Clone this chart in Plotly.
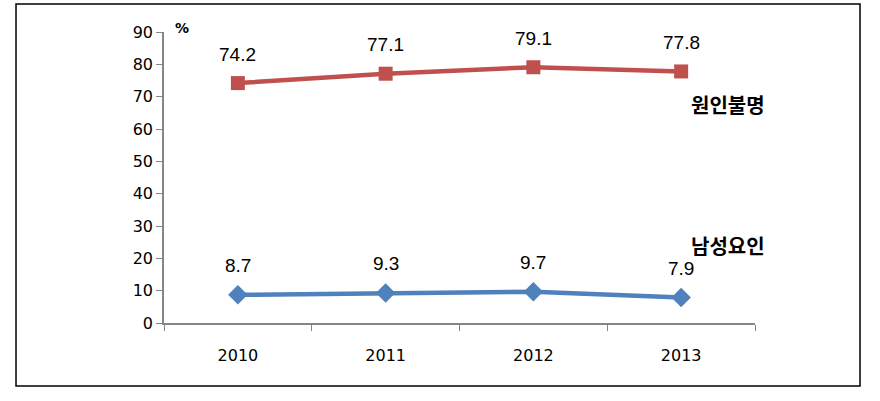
import plotly.graph_objects as go

years = ["2010", "2011", "2012", "2013"]
unknown = [74.2, 77.1, 79.1, 77.8]
male = [8.7, 9.3, 9.7, 7.9]
y_ticks = [0, 10, 20, 30, 40, 50, 60, 70, 80, 90]

RED = "#C0504D"
BLUE = "#4F81BD"

fig = go.Figure()
fig.add_trace(go.Scatter(x=years, y=unknown, mode="lines+markers",
                         line=dict(color=RED, width=4.5),
                         marker=dict(symbol="square", size=14, color=RED),
                         showlegend=False, hoverinfo="skip"))
fig.add_trace(go.Scatter(x=years, y=male, mode="lines+markers",
                         line=dict(color=BLUE, width=4.5),
                         marker=dict(symbol="diamond", size=15, color=BLUE),
                         showlegend=False, hoverinfo="skip"))

annotations = []
for series in (unknown, male):
    for i, yv in enumerate(series):
        annotations.append(dict(x=i, y=yv, xref="x", yref="y", text=f"{yv:.1f}",
                                showarrow=False, yshift=29,
                                xanchor="center", yanchor="middle",
                                font=dict(family="Liberation Sans", size=19, color="black")))
annotations.append(dict(x=0.954, y=67.7, xref="paper", yref="y", text="<b>원인불명</b>",
                        showarrow=False, xanchor="center", yanchor="middle",
                        font=dict(family="Noto Sans CJK KR", size=20, color="black")))
annotations.append(dict(x=0.954, y=24.1, xref="paper", yref="y", text="<b>남성요인</b>",
                        showarrow=False, xanchor="center", yanchor="middle",
                        font=dict(family="Noto Sans CJK KR", size=20, color="black")))
annotations.append(dict(x=0.0305, y=1.014, xref="paper", yref="paper", text="<b>%</b>",
                        showarrow=False, xanchor="center", yanchor="middle",
                        font=dict(family="DejaVu Sans", size=14, color="black")))

fig.update_layout(
    width=880, height=401,
    margin=dict(l=164, r=125, t=32, b=78),
    paper_bgcolor="white", plot_bgcolor="white",
    annotations=annotations,
    shapes=[dict(type="rect", xref="paper", yref="paper",
                 x0=-0.2504, x1=1.1777, y0=-0.2165, y1=1.0962,
                 line=dict(color="black", width=1.5), fillcolor="rgba(0,0,0,0)")],
)
fig.update_xaxes(type="category", range=[-0.5, 3.5], showgrid=False,
                 showline=True, linecolor="#868686", linewidth=1.5,
                 ticks="outside", tickson="boundaries", ticklen=6, tickcolor="#868686",
                 ticklabelstandoff=17,
                 tickfont=dict(family="DejaVu Sans", size=16, color="black"))
fig.update_yaxes(range=[0, 90], tickvals=y_ticks, showgrid=False, zeroline=False,
                 showline=True, linecolor="#868686", linewidth=1.5,
                 ticks="outside", ticklen=6, tickcolor="#868686",
                 tickfont=dict(family="DejaVu Sans", size=16, color="black"))

fig.write_html("out.html", config={"displayModeBar": False},
               post_script="document.body.style.margin='0';document.body.style.overflow='hidden';")
